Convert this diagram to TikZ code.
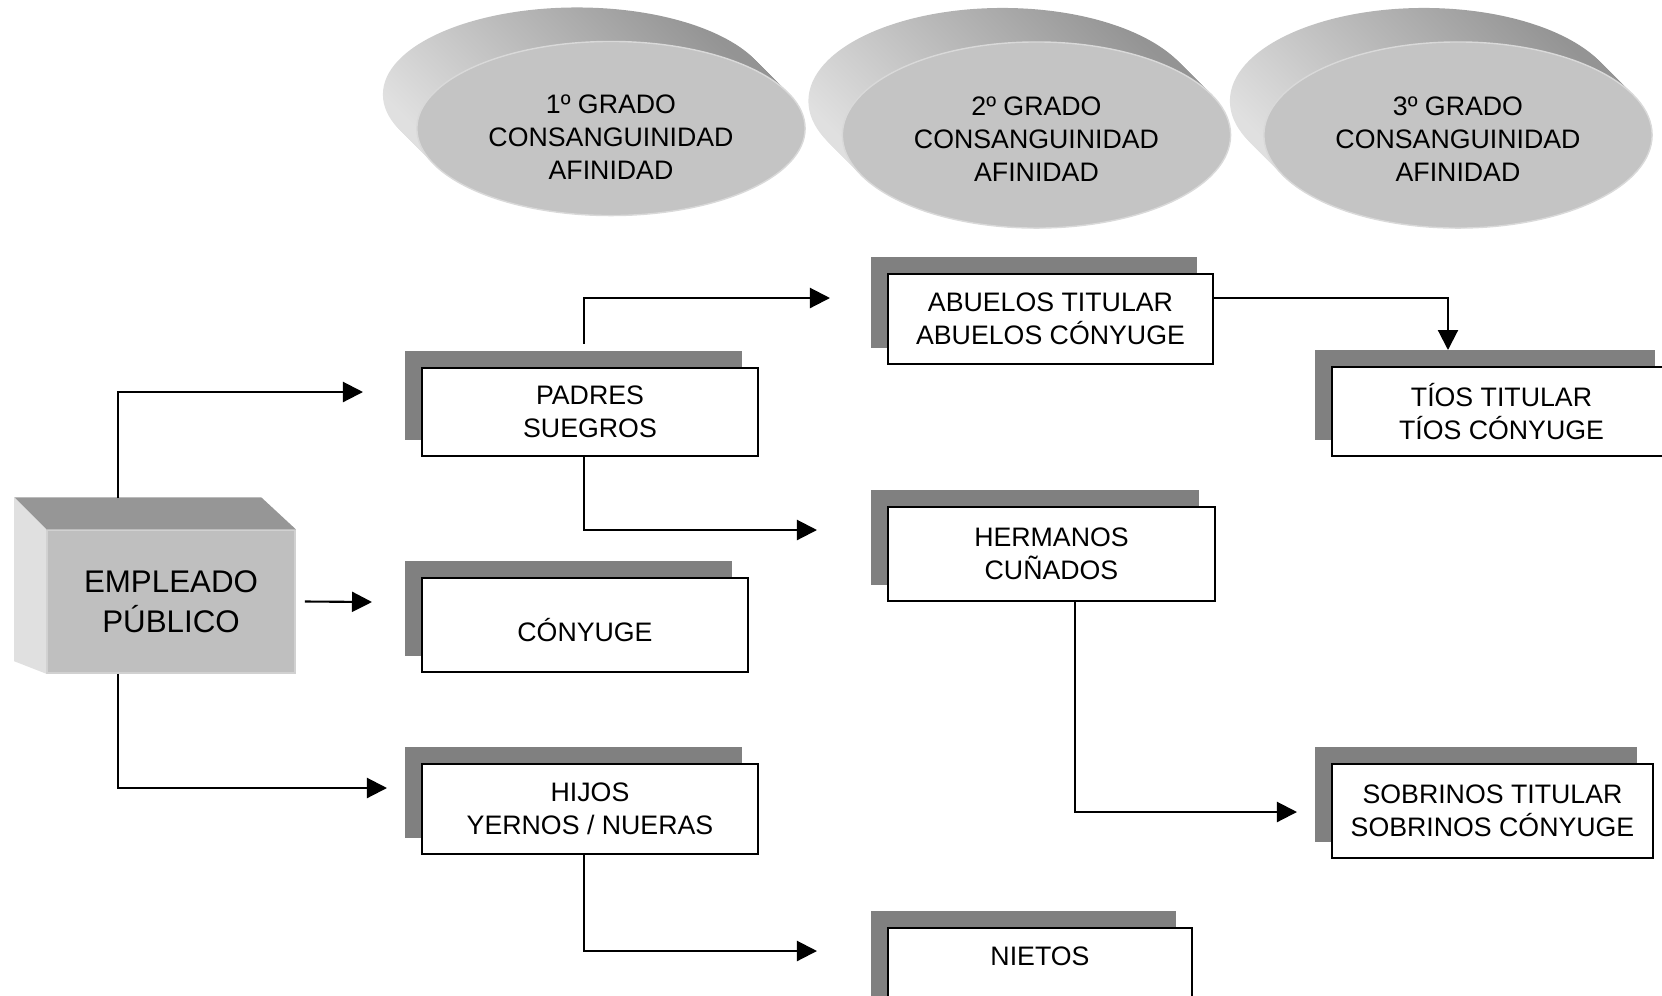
\documentclass[tikz,border=0pt]{standalone}
\usepackage{fontspec}
\setmainfont{Liberation Sans}
\usetikzlibrary{arrows.meta, shapes.geometric, shadows}
\newcommand{\boxfont}{\fontsize{7.6}{9.4}\selectfont}
\newcommand{\empfont}{\fontsize{8.9}{11.4}\selectfont}
\tikzset{
    famrect/.style={
        draw,
        line width=0.6pt,
        fill=white,
        align=center,
        inner sep=0pt,
        font=\boxfont,
        general shadow={fill=black!50, shadow xshift=-0.165cm, shadow yshift=0.165cm}
    },
    disco/.style={
        fill=black!23,
        draw=black!15
    },
    gradotext/.style={
        inner sep=0pt,
        align=center,
        font=\boxfont
    },
    empleado/.style={
        fill=black!25,
        draw=black!18,
        align=center,
        minimum width=2.48cm,
        minimum height=1.43cm,
        font=\empfont
    },
    line/.style={-{Triangle[length=0.2cm, width=0.2cm]}, line width=0.6pt}
}

\begin{document}
\begin{tikzpicture}[x=0.01cm, y=-0.01cm]
\useasboundingbox (0,0) rectangle (1662,996);

% grados (discos)
\foreach \cx/\cy/\ry/\ty/\n/\g in {611/128.5/0.87/137/1/1º, 1036.5/135/0.93/139/2/2º, 1458/135/0.93/139/3/3º}{
    \foreach \k in {34,32,...,2}
        \shade[top color=black!42, bottom color=black!12, shading angle=-45]
            ({\cx-\k},{\cy-\k}) ellipse [x radius=1.94cm, y radius=\ry cm];
    \path[disco] (\cx,\cy) ellipse [x radius=1.94cm, y radius=\ry cm];
    \node[gradotext] (g\n) at (\cx,\ty) {\g{} GRADO\\CONSANGUINIDAD\\AFINIDAD};
}

% empleado
\node[empleado] (emp) at (171,601.5) {EMPLEADO\\PÚBLICO};
\fill[black!41] (emp.north west) -- ++(-32,-32) -- ++(247,0) -- (emp.north east) -- cycle;
\fill[black!12] (emp.north west) -- ++(-32,-32) -- ++(0,164) -- (emp.south west) -- cycle;

% familiares
\node[famrect, minimum width=3.36cm, minimum height=0.88cm] (padres) at (590,412) {PADRES\\SUEGROS};
\node[famrect, minimum width=3.26cm, minimum height=0.94cm] (conyuge) at (585,625) {\mbox{}\\CÓNYUGE};
\node[famrect, minimum width=3.36cm, minimum height=0.90cm] (hijos) at (590,809) {HIJOS\\YERNOS / NUERAS};
\node[famrect, minimum width=3.25cm, minimum height=0.90cm] (abuelos) at (1050.5,319) {ABUELOS TITULAR\\ABUELOS CÓNYUGE};
\node[famrect, minimum width=3.27cm, minimum height=0.94cm] (hermanos) at (1051.5,554) {HERMANOS\\CUÑADOS};
\node[famrect, minimum width=3.04cm, minimum height=0.90cm] (nietos) at (1040,973) {NIETOS\\\mbox{}};
\node[famrect, minimum width=3.39cm, minimum height=0.89cm] (tios) at (1501.5,411.5) {TÍOS TITULAR\\TÍOS CÓNYUGE};
\node[famrect, minimum width=3.21cm, minimum height=0.94cm] (sobrinos) at (1492.5,811) {SOBRINOS TITULAR\\SOBRINOS CÓNYUGE};

% extremos libres
\coordinate (e-top) at (118,498);
\coordinate (in-padres) at (363,392);
\coordinate (in-conyuge) at (372,602);
\coordinate (in-hijos) at (387,788);
\coordinate (in-abuelos) at (830,298);
\coordinate (in-hermanos) at (817,530);
\coordinate (in-nietos) at (817,951);
\coordinate (in-tios) at (1448,350);
\coordinate (in-sobrinos) at (1297,812);

\draw[line] (e-top) |- (in-padres);
\draw[line] ([xshift=0.09cm]emp.east) -- (in-conyuge);
\draw[line] ([xshift=-0.53cm]emp.south) |- (in-hijos);
\draw[line] ([xshift=-0.06cm, yshift=0.23cm]padres.north) |- (in-abuelos);
\draw[line] ([xshift=-0.06cm]padres.south) |- (in-hermanos);
\draw[line] ([xshift=-0.06cm]hijos.south) |- (in-nietos);
\draw[line] ([yshift=0.21cm]abuelos.east) -| (in-tios);
\draw[line] ([xshift=0.235cm]hermanos.south) |- (in-sobrinos);
\end{tikzpicture}
\end{document}
